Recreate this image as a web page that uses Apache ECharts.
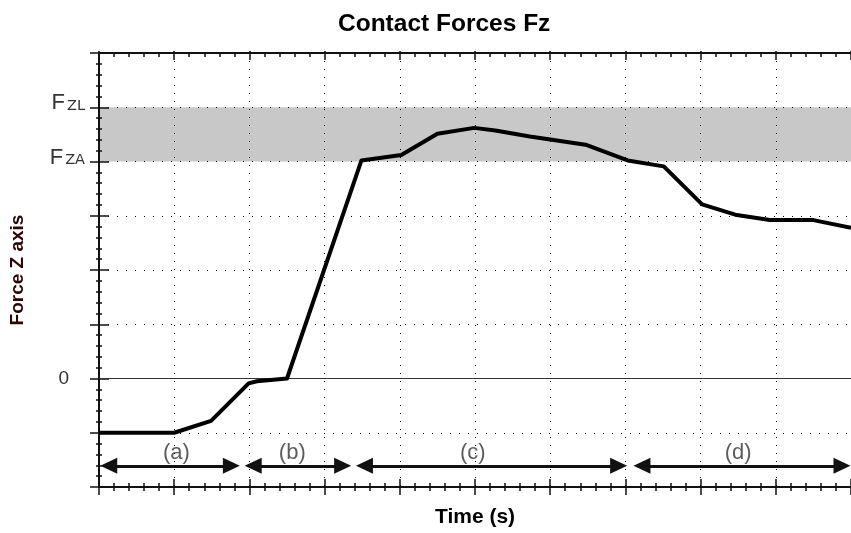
<!DOCTYPE html>
<html>
<head>
<meta charset="utf-8">
<title>Contact Forces Fz</title>
<script src="https://cdn.jsdelivr.net/npm/echarts@6/dist/echarts.min.js"></script>
<style>
html, body { margin: 0; padding: 0; background: #fff; }
#chart { width: 851px; height: 533px; }
</style>
</head>
<body>
<div id="chart"></div>
<script>
// time in grid columns (one dotted column = 1), force in grid rows (0 = zero line)
const timeValues  = [0, 1, 1.49, 1.99, 2.1, 2.5, 3.49, 4.02, 4.5, 4.99, 5.27, 5.73, 6.47, 7.03, 7.51, 8.02, 8.46, 8.92, 9.5, 10];
const forceValues = [-1, -1, -0.78, -0.09, -0.05, 0, 4.02, 4.12, 4.51, 4.62, 4.57, 4.46, 4.31, 4.02, 3.91, 3.21, 3.02, 2.92, 2.92, 2.78];

// admissible band FzA .. FzL
const fzA = 4
const fzL = 5

// y tick labels (only three are labelled)
const yTickValues = [0, 4, 5]
const yTickLabels = ['{z|0}', '{f|F}{s|ZA}', '{f|F}{s|ZL}']

// phases shown with double arrows under the curve
const phaseNames  = ['(a)', '(b)', '(c)', '(d)']
const phaseStart  = [0.13, 2.05, 3.53, 7.22]
const phaseEnd    = [1.76, 3.24, 6.91, 9.88]
const phaseLabelX = [1.03, 2.57, 4.97, 8.5]
const phaseArrowY = -1.61
const phaseLabelY = -1.37

const FONT = "'Liberation Sans', Arial, sans-serif"
const AXIS_COLOR = '#111'

const xBase = { type: 'value', min: 0, max: 10, interval: 1 }
const yBase = { type: 'value', min: -2, max: 6, interval: 1 }

const option = {
    animation: false,
    backgroundColor: '#fff',
    title: {
        text: 'Contact Forces Fz',
        left: 338,
        top: 12,
        padding: 0,
        textStyle: { fontSize: 24.5, fontWeight: 'bold', color: '#000', fontFamily: FONT }
    },
    grid: { left: 97, top: 53, right: -5, bottom: 44 },
    xAxis: [
        {
            ...xBase,
            position: 'bottom',
            name: 'Time (s)',
            nameLocation: 'middle',
            nameGap: 20,
            nameTextStyle: { fontSize: 21, fontWeight: 'bold', color: '#000', fontFamily: FONT },
            axisLine: { show: true, onZero: false, lineStyle: { color: AXIS_COLOR, width: 2 } },
            axisTick: { show: true, inside: false, length: 8, lineStyle: { color: AXIS_COLOR, width: 1.5 } },
            minorTick: { show: true, splitNumber: 5, length: 4, lineStyle: { color: AXIS_COLOR, width: 1.5 } },
            axisLabel: { show: false },
            splitLine: { show: true, lineStyle: { color: '#000', width: 1, type: [1, 7] } }
        },
        {
            ...xBase,
            position: 'bottom',
            axisLine: { show: false, onZero: false },
            axisTick: { show: true, inside: true, length: 8, lineStyle: { color: AXIS_COLOR, width: 1.5 } },
            minorTick: { show: true, splitNumber: 5, length: 4, lineStyle: { color: AXIS_COLOR, width: 1.5 } },
            axisLabel: { show: false },
            splitLine: { show: false }
        },
        {
            ...xBase,
            position: 'top',
            axisLine: { show: true, onZero: false, lineStyle: { color: AXIS_COLOR, width: 2 } },
            axisTick: { show: true, inside: true, length: 7, lineStyle: { color: AXIS_COLOR, width: 1.5 } },
            minorTick: { show: true, splitNumber: 5, length: 4, lineStyle: { color: AXIS_COLOR, width: 1.5 } },
            axisLabel: { show: false },
            splitLine: { show: false }
        },
        {
            ...xBase,
            position: 'top',
            axisLine: { show: false, onZero: false },
            axisTick: { show: true, inside: false, length: 2, lineStyle: { color: AXIS_COLOR, width: 1.5 } },
            axisLabel: { show: false },
            splitLine: { show: false }
        }
    ],
    yAxis: [
        {
            ...yBase,
            position: 'left',
            name: 'Force Z axis',
            nameLocation: 'middle',
            nameGap: 72,
            nameRotate: 90,
            nameTextStyle: { fontSize: 19, fontWeight: 'bold', color: '#2a0505', fontFamily: FONT },
            axisLine: { show: true, onZero: false, lineStyle: { color: AXIS_COLOR, width: 2 } },
            axisTick: { show: true, inside: false, length: 9, lineStyle: { color: AXIS_COLOR, width: 1.5 } },
            minorTick: { show: true, splitNumber: 5, length: 3, lineStyle: { color: AXIS_COLOR, width: 1.5 } },
            axisLabel: {
                margin: 14,
                formatter: function (v) {
                    const i = yTickValues.indexOf(v)
                    return i < 0 ? '' : yTickLabels[i]
                },
                rich: {
                    f: { fontSize: 22, color: '#333', fontFamily: FONT, verticalAlign: 'bottom', padding: [0, 1, 8, 0] },
                    s: { fontSize: 14.5, color: '#333', fontFamily: "'DejaVu Sans', sans-serif", verticalAlign: 'bottom', padding: [0, 0, 9, 1] },
                    z: { fontSize: 19, color: '#333', fontFamily: FONT, padding: [0, 16, 0, 0] }
                }
            },
            splitLine: { show: true, lineStyle: { color: '#000', width: 1, type: [1, 8] } }
        },
        {
            ...yBase,
            position: 'left',
            axisLine: { show: false, onZero: false },
            axisTick: { show: true, inside: true, length: 10, lineStyle: { color: AXIS_COLOR, width: 1.5 } },
            minorTick: { show: true, splitNumber: 5, length: 3, lineStyle: { color: AXIS_COLOR, width: 1.5 } },
            axisLabel: { show: false },
            splitLine: { show: false }
        }
    ],
    series: [
        {
            // grey band, kept under the dotted grid
            name: 'band',
            type: 'line',
            z: -1,
            data: [],
            silent: true,
            markArea: {
                z: -1,
                silent: true,
                itemStyle: { color: '#c8c8c8' },
                data: [[{ yAxis: fzA }, { yAxis: fzL }]]
            }
        },
        {
            name: 'Fz',
            type: 'line',
            z: 5,
            symbol: 'none',
            smooth: false,
            lineStyle: { color: '#000', width: 4, join: 'round' },
            data: timeValues.map((t, i) => [t, forceValues[i]]),
            markLine: {
                silent: true,
                symbol: 'none',
                label: { show: false },
                lineStyle: { color: '#333', width: 1, type: 'solid' },
                data: [{ yAxis: 0 }]
            }
        },
        {
            name: 'phases',
            type: 'scatter',
            symbolSize: 1,
            itemStyle: { color: 'transparent' },
            silent: true,
            label: {
                show: true,
                position: 'inside',
                formatter: '{b}',
                fontSize: 22,
                color: '#333',
                fontFamily: FONT
            },
            data: phaseNames.map((n, i) => ({ name: n, value: [phaseLabelX[i], phaseLabelY] })),
            markLine: {
                silent: true,
                symbol: ['triangle', 'triangle'],
                symbolSize: [16, 17],
                label: { show: false },
                lineStyle: { color: '#111', width: 3, type: 'solid' },
                data: phaseNames.map((n, i) => [
                    { coord: [phaseStart[i], phaseArrowY] },
                    { coord: [phaseEnd[i], phaseArrowY] }
                ])
            }
        }
    ]
}

const chart = echarts.init(document.getElementById('chart'))
chart.setOption(option)
</script>
</body>
</html>
